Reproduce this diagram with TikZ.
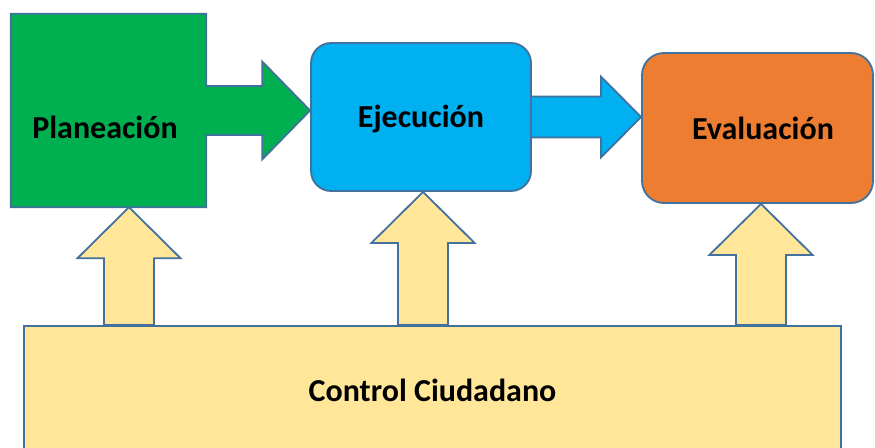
\documentclass[tikz,border=0pt]{standalone}
\usepackage{fontspec}
\setmainfont{Carlito}
\usepackage{xcolor}
\usetikzlibrary{calc,positioning}
\definecolor{verde}{HTML}{00B050}
\definecolor{azul}{HTML}{00B0F0}
\definecolor{naranja}{HTML}{ED7D31}
\definecolor{amarillo}{HTML}{FFE699}
\definecolor{borde}{HTML}{41719C}
\tikzset{
        stage/.style = {draw=borde, line width=1.8pt, inner sep=0pt},
        etapa/.style = {stage, rounded corners=20pt},
        rotulo/.style = {font=\fontsize{32}{38}\selectfont\bfseries, text=black},
        flecha/.style = {draw=borde, line width=1.8pt, line join=miter},
    }

\begin{document}
\begin{tikzpicture}[x=1pt,y=-1pt]
        \useasboundingbox (0,0) rectangle (875,447);
        \node[inner sep=0pt, minimum width=195pt, minimum height=193pt] (plan) at (108.5,110.5) {};
        \node[etapa, fill=azul, minimum width=220pt, minimum height=148pt] (ejec) at (421,117) {};
        \node[etapa, fill=naranja, minimum width=231pt, minimum height=150pt, rounded corners=22pt] (eval) at (757.5,128) {};
        \node[stage, fill=amarillo, minimum width=817pt, minimum height=128pt, rotulo] (control) at (432.5,390) {Control Ciudadano};

        % cuadro verde con su flecha
        \filldraw[flecha, fill=verde] (plan.south west) -- (plan.north west) -- (plan.north east)
            -- ($(plan.east)+(0,-24.5)$) -- ++(56,0) -- ++(0,-24.5) -- (plan.east -| ejec.west)
            -- ($(plan.east)+(56,49)$) -- ++(0,-24.5) -- ($(plan.east)+(0,24.5)$)
            -- (plan.south east) -- cycle;
        \node[rotulo] (plantxt) at ($(plan.center)+(-3.5,16.5)$) {Planeación};
        \node[rotulo] (ejectxt) at ($(ejec.center)+(0,2)$) {Ejecución};

        \filldraw[flecha, fill=azul] ($(ejec.east)+(0,-20.5)$) -- ++(69,0) -- ++(0,-20)
            -- (ejec.east -| eval.west) -- ($(ejec.east)+(69,40.5)$) -- ++(0,-20)
            -- ($(ejec.east)+(0,20.5)$);
        \node[rotulo] (evaltxt) at ($(eval.center)+(5.5,0.5)$) {Evaluación};

        \foreach \xx/\dest in {129/plan,423/ejec,761/eval}{
            \coordinate (eje) at (\xx,0);
            \coordinate (pie) at (control.north -| eje);
            \coordinate (punta) at (\dest.south -| eje);
            \filldraw[flecha, fill=amarillo] ($(pie)+(-25,0)$) -- ($(punta)+(-25,51)$) -- ++(-26.5,0)
                -- (punta) -- ($(punta)+(51.5,51)$) -- ++(-26.5,0) -- ($(pie)+(25,0)$) -- cycle;
        }
    \end{tikzpicture}
\end{document}
